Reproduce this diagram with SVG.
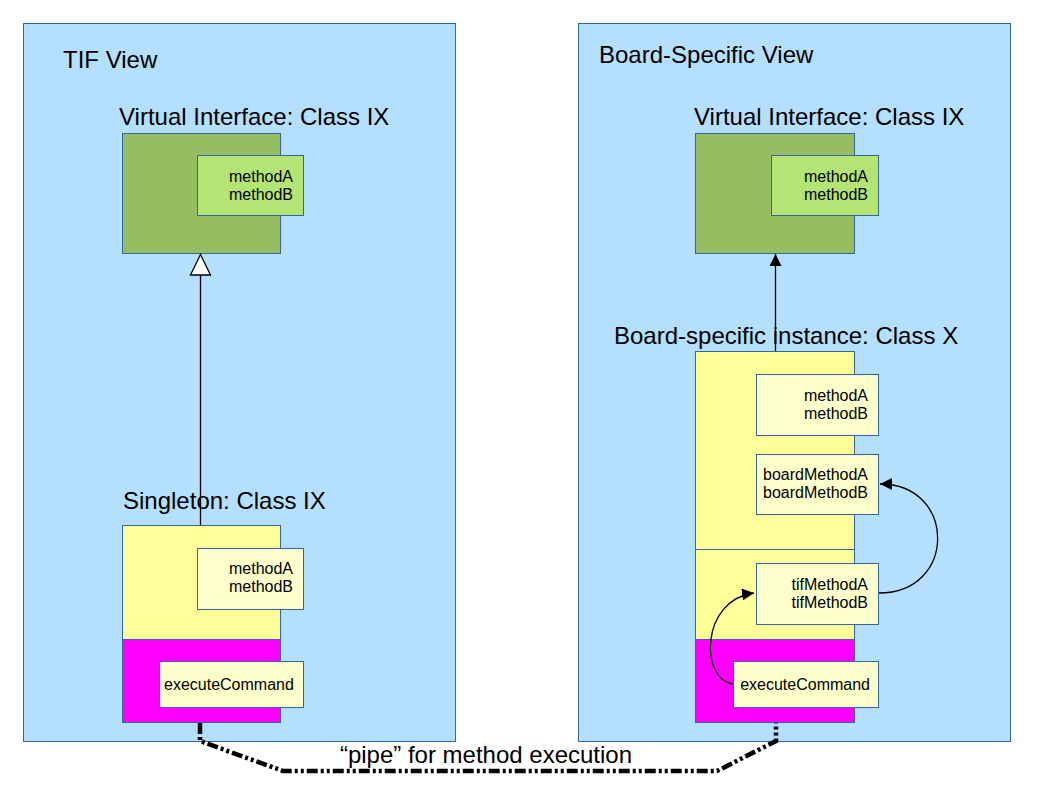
<svg xmlns="http://www.w3.org/2000/svg" width="1058" height="794" viewBox="0 0 1058 794">
<style>
.panel{fill:#b4dffe;stroke:#3465a4;stroke-width:1}
.green{fill:#97bd62;stroke:#3465a4;stroke-width:1}
.lgreen{fill:#b4e473;stroke:#3465a4;stroke-width:1}
.yel{fill:#ffff99;stroke:#3465a4;stroke-width:1}
.lyel{fill:#ffffcc;stroke:#3465a4;stroke-width:1}
.mag{fill:#ff00ff;stroke:#3465a4;stroke-width:1}
.big{font-family:"Liberation Sans",Arial,sans-serif;font-size:24px;fill:#000}
.sm{font-family:"Liberation Sans",Arial,sans-serif;font-size:16px;fill:#000;text-anchor:end}
.smc{font-family:"Liberation Sans",Arial,sans-serif;font-size:16px;fill:#000}
.conn{fill:none;stroke:#000;stroke-width:1.3}
</style>
<defs>
<marker id="filled" markerWidth="12" markerHeight="12" viewBox="0 0 20 20" refX="20" refY="10" orient="auto" markerUnits="userSpaceOnUse">
<path d="M0,0 L20,10 L0,20 Z" fill="#000"/>
</marker>
</defs>
<g id="tif-view">
<rect class="panel" x="23.5" y="23.5" width="432" height="718"/>
<text class="big" x="63" y="68">TIF View</text>
</g>
<g id="board-view">
<rect class="panel" x="578.5" y="23.5" width="432" height="718"/>
<text class="big" x="599" y="63">Board-Specific View</text>
</g>
<g id="vi-left">
<text class="big" x="119" y="125">Virtual Interface: Class IX</text>
<rect class="green" x="122.5" y="133.5" width="158" height="120"/>
<rect class="lgreen" x="197.5" y="155.5" width="106" height="60"/>
<text class="sm" x="293" y="182">methodA</text>
<text class="sm" x="293" y="200">methodB</text>
</g>
<g id="singleton">
<text class="big" x="123" y="509">Singleton: Class IX</text>
<rect class="yel" x="122.5" y="525.5" width="158" height="114"/>
<rect class="mag" x="122.5" y="639.5" width="158" height="83"/>
<rect class="lyel" x="197.5" y="548.5" width="106" height="61"/>
<text class="sm" x="293" y="574">methodA</text>
<text class="sm" x="293" y="592">methodB</text>
<rect class="lyel" x="159.5" y="661.5" width="144" height="46"/>
<text class="smc" x="164" y="690">executeCommand</text>
</g>
<g id="vi-right">
<text class="big" x="694" y="125">Virtual Interface: Class IX</text>
<rect class="green" x="695.5" y="133.5" width="159" height="120"/>
<rect class="lgreen" x="771.5" y="155.5" width="107" height="60"/>
<text class="sm" x="868" y="182">methodA</text>
<text class="sm" x="868" y="200">methodB</text>
</g>
<g id="board-instance">
<text class="big" x="614" y="344">Board-specific instance: Class X</text>
<rect class="yel" x="695.5" y="351.5" width="159" height="288"/>
<line x1="695.5" y1="549.5" x2="854.5" y2="549.5" stroke="#3465a4" stroke-width="1"/>
<rect class="mag" x="695.5" y="639.5" width="159" height="83"/>
<rect class="lyel" x="756.5" y="374.5" width="122" height="61"/>
<text class="sm" x="868" y="401">methodA</text>
<text class="sm" x="868" y="419">methodB</text>
<rect class="lyel" x="756.5" y="454.5" width="122" height="60"/>
<text class="sm" x="868" y="480">boardMethodA</text>
<text class="sm" x="868" y="498">boardMethodB</text>
<rect class="lyel" x="756.5" y="563.5" width="122" height="61"/>
<text class="sm" x="868" y="590">tifMethodA</text>
<text class="sm" x="868" y="608">tifMethodB</text>
<rect class="lyel" x="733.5" y="661.5" width="145" height="46"/>
<text class="sm" x="870" y="690">executeCommand</text>
</g>
<g id="connectors">
<line class="conn" x1="200.5" y1="525" x2="200.5" y2="275"/>
<path d="M200.5,254.5 L210.5,275 L190.5,275 Z" fill="#ffffff" stroke="#000" stroke-width="1.3"/>
<line class="conn" x1="775.5" y1="351" x2="775.5" y2="254" marker-end="url(#filled)"/>
<path class="conn" d="M879,593 C957,593 957,484 880,484" marker-end="url(#filled)"/>
<path class="conn" d="M733,684 C700,680 700,600 754,593" marker-end="url(#filled)"/>
<path d="M200,723 L200,741 L283,771 L717,771 L776,741 L776,723" fill="none" stroke="#000" stroke-width="4.5" stroke-dasharray="11,3,3,3,3,3"/>
<text class="big" x="486" y="763" text-anchor="middle">“pipe” for method execution</text>
</g>
</svg>
